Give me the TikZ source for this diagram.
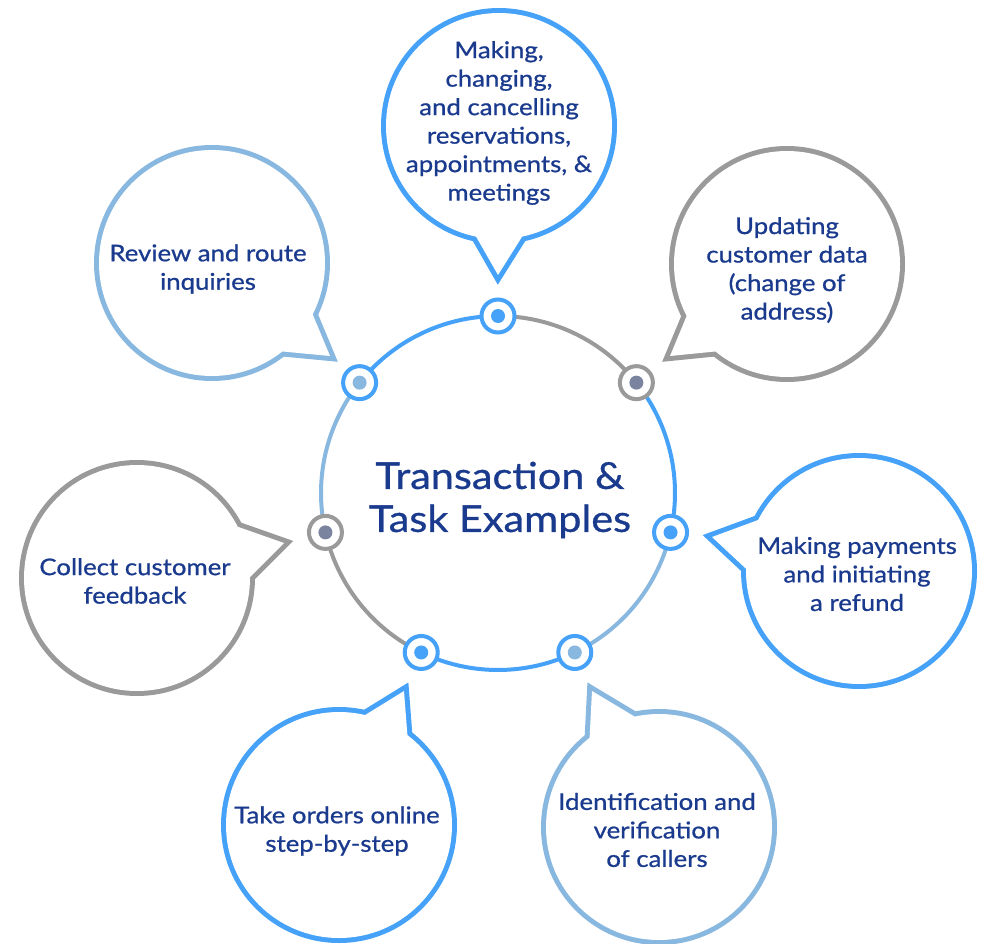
\documentclass[tikz,border=0pt]{standalone}
\usepackage{fontspec}
\setmainfont{Lato}
\newfontfamily\txtfont{Lato}[FakeBold=0.8, FakeStretch=1.12]
\usetikzlibrary{calc}
\definecolor{cblue}{HTML}{45A2F8}
\definecolor{clight}{HTML}{88B8DF}
\definecolor{cgray}{HTML}{9A9A9A}
\definecolor{cslate}{HTML}{7B849F}
\definecolor{ctext}{HTML}{1A3A8E}
\newcommand\mybubble[5]{%
  \draw[#1, line width=10, line join=miter] #2 circle[radius=113];
  \draw[#1, line width=10, line join=miter] #3 -- ($#3!1.5!#4$) -- ($#3!1.5!#5$) -- cycle;
  \fill[white] #2 circle[radius=113];
  \fill[white] #3 -- ($#3!1.5!#4$) -- ($#3!1.5!#5$) -- cycle;
}
\tikzset{
  btext/.style={text=ctext, align=center, font=\txtfont\fontsize{23}{28.5}\selectfont, inner sep=0},
  dotring/.style={circle, draw=#1, line width=4, fill=white, minimum size=33, inner sep=0},
  dotcore/.style={circle, fill=#1, minimum size=14, inner sep=0},
  seg/.style={line width=4, draw=#1}
}
\begin{document}
\begin{tikzpicture}[x=1pt,y=1pt]
\useasboundingbox (0,0) rectangle (987,-944);
\fill[white] (0,0) rectangle (987,-944);
\coordinate (C) at (498,-493);
% central ring segments
\draw[seg=cblue]  ($(C)+(90:177)$) arc[start angle=90, end angle=141.43, radius=177];
\draw[seg=clight] ($(C)+(141.43:177)$) arc[start angle=141.43, end angle=192.86, radius=177];
\draw[seg=cgray]  ($(C)+(192.86:177)$) arc[start angle=192.86, end angle=244.29, radius=177];
\draw[seg=cblue]  ($(C)+(244.29:177)$) arc[start angle=244.29, end angle=295.71, radius=177];
\draw[seg=clight] ($(C)+(295.71:177)$) arc[start angle=295.71, end angle=347.14, radius=177];
\draw[seg=cblue]  ($(C)+(-12.86:177)$) arc[start angle=-12.86, end angle=38.57, radius=177];
\draw[seg=cgray]  ($(C)+(38.57:177)$) arc[start angle=38.57, end angle=90, radius=177];
\node[text=ctext, align=center, font=\txtfont\fontsize{37}{43}\selectfont, inner sep=0] (center) at (500,-500) {Transaction \&\\Task Examples};
% dots
\node[dotring=cblue] (d1) at ($(C)+(90:177)$) {};     \node[dotcore=cblue] at (d1) {};
\node[dotring=cblue] (d7) at ($(C)+(141.43:177)$) {}; \node[dotcore=clight] at (d7) {};
\node[dotring=cgray] (d6) at ($(C)+(192.86:177)$) {}; \node[dotcore=cslate] at (d6) {};
\node[dotring=cblue] (d5) at ($(C)+(244.29:177)$) {}; \node[dotcore=cblue] at (d5) {};
\node[dotring=cblue] (d4) at ($(C)+(295.71:177)$) {}; \node[dotcore=clight] at (d4) {};
\node[dotring=cblue] (d3) at ($(C)+(347.14:177)$) {}; \node[dotcore=cblue] at (d3) {};
\node[dotring=cgray] (d2) at ($(C)+(38.57:177)$) {};  \node[dotcore=cslate] at (d2) {};
% bubbles
\mybubble{cblue}{(499,-126)}{(498,-275)}{(478,-240)}{(520,-240)}
\mybubble{cgray}{(787,-264)}{(670,-356)}{(685,-320)}{(710,-352)}
\mybubble{cblue}{(859,-571)}{(712,-537)}{(750,-523)}{(742,-565)}
\mybubble{clight}{(659,-827)}{(592,-691)}{(590,-730)}{(627,-712)}
\mybubble{cblue}{(339,-825)}{(404,-691)}{(370,-712)}{(407,-730)}
\mybubble{cgray}{(137,-578)}{(284,-543)}{(247,-530)}{(255,-572)}
\mybubble{clight}{(212,-263)}{(330,-356)}{(315,-320)}{(288,-352)}
% texts
\node[btext] (t1) at (499,-123) {Making,\\changing,\\and cancelling\\reservations,\\appointments, \&\\meetings};
\node[btext] (t2) at (787,-270) {Updating\\customer data\\(change of\\address)};
\node[btext] (t3) at (857,-574) {Making payments\\and initiating\\a refund};
\node[btext] (t4) at (657,-830) {Identification and\\verification\\of callers};
\node[btext] (t5) at (337,-831) {Take orders online\\step-by-step};
\node[btext] (t6) at (135,-581) {Collect customer\\feedback};
\node[btext] (t7) at (208,-269) {Review and route\\inquiries};
\end{tikzpicture}
\end{document}
